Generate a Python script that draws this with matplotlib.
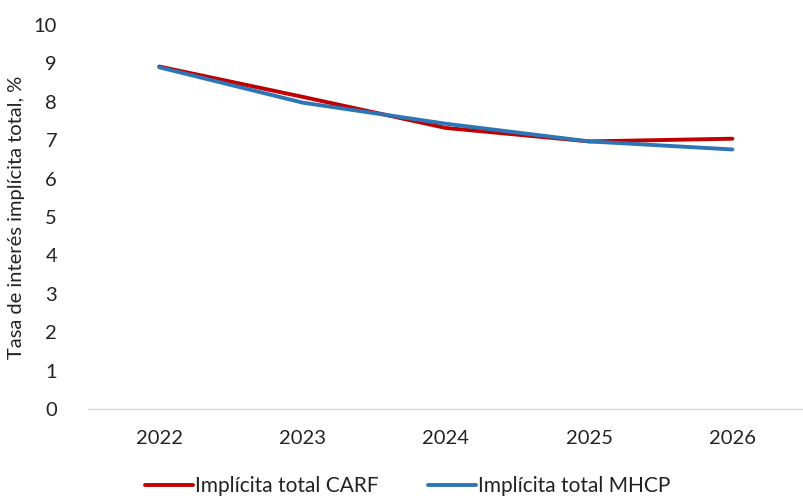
import matplotlib.pyplot as plt
import matplotlib as mpl

# data
years = ['2022', '2023', '2024', '2025', '2026']
carf = [8.92, 8.13, 7.32, 6.97, 7.04]
mhcp = [8.90, 7.98, 7.43, 6.97, 6.76]

mpl.rcParams['font.family'] = ['Lato', 'DejaVu Sans']

fig = plt.figure(figsize=(8.04, 5.01), dpi=100)
ax = fig.add_axes([0.109, 0.1836, 0.891, 0.7664])

x = range(len(years))
ax.plot(x, carf, color='#C00000', lw=2.8, solid_capstyle='round', label='Implícita total CARF')
ax.plot(x, mhcp, color='#2E75B6', lw=2.8, solid_capstyle='round', label='Implícita total MHCP')

ax.set_xlim(-0.5, len(years) - 0.5)
ax.set_ylim(0, 10)
ax.set_yticks(range(0, 11))
ax.set_xticks(list(x))
ax.set_xticklabels(years)
ax.tick_params(axis='both', length=0, colors='#222222', labelsize=14.5)
ax.tick_params(axis='x', pad=15)
ax.tick_params(axis='y', pad=22)

for s in ['top', 'right', 'left']:
    ax.spines[s].set_visible(False)
ax.spines['bottom'].set_color('#D9D9D9')
ax.spines['bottom'].set_linewidth(1)

ax.set_ylabel('Tasa de interés implícita total, %', fontsize=14.5, color='#222222', labelpad=6)

leg = fig.legend(loc='center', bbox_to_anchor=(0.507, 0.03), ncol=2, frameon=False,
                 handlelength=2.3, handletextpad=0.1, columnspacing=2.4, fontsize=15)
for t in leg.get_texts():
    t.set_color('#222222')

fig.savefig('out.png', dpi=100)
